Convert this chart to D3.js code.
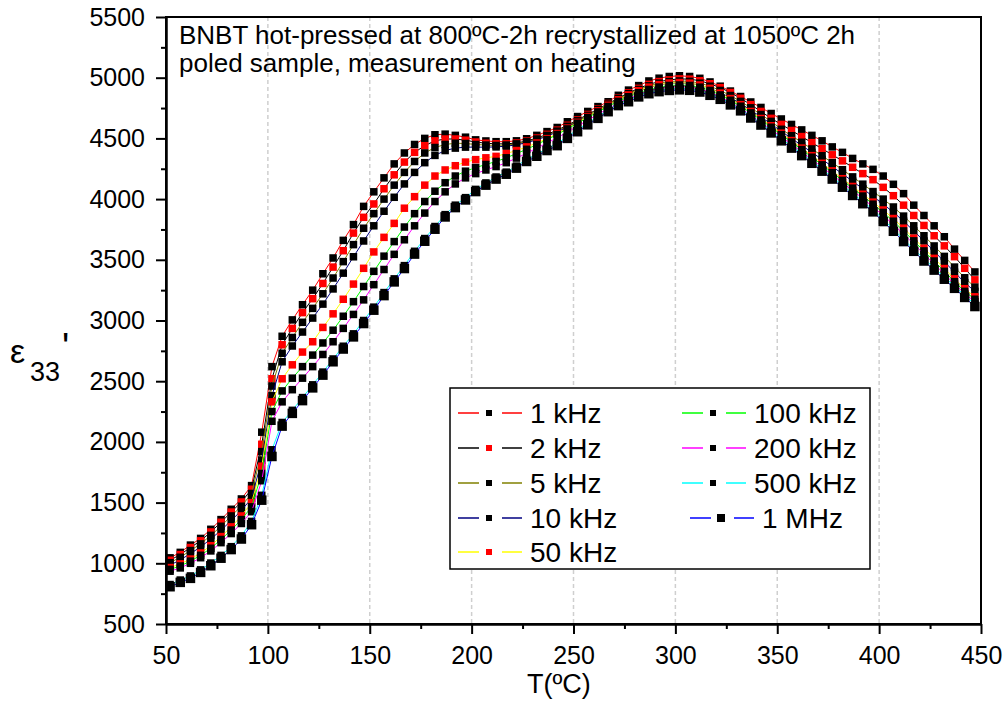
<!DOCTYPE html>
<html>
<head>
<meta charset="utf-8">
<script src="https://cdn.jsdelivr.net/npm/d3@7"></script>
<style>
  body { margin: 0; background: #fff; }
  text { font-family: "Liberation Sans", Arial, sans-serif; }
</style>
</head>
<body>
<div id="graph"></div>
<script>
// temperature of every measurement point (ºC)
const temps = [52,57,62,67,72,77,82,87,92,97,
  102,107,112,117,122,127,132,137,142,147,
  152,157,162,167,172,177,182,187,192,197,
  202,207,212,217,222,227,232,237,242,247,
  252,257,262,267,272,277,282,287,292,297,
  302,307,312,317,322,327,332,337,342,347,
  352,357,362,367,372,377,382,387,392,397,
  402,407,412,417,422,427,432,437,442,447];

// eps33', one array per frequency
const eps1k = [1045,1090,1150,1205,1280,1360,1445,1530,1640,2080,
  2620,2870,3005,3130,3250,3385,3515,3660,3790,3940,
  4060,4175,4290,4380,4450,4500,4530,4535,4525,4510,
  4488,4479,4473,4473,4480,4497,4525,4556,4590,4637,
  4680,4722,4762,4802,4855,4898,4935,4973,4996,5010,
  5016,5010,4995,4965,4930,4890,4845,4800,4755,4705,
  4660,4615,4570,4525,4480,4430,4385,4335,4290,4245,
  4190,4122,4045,3950,3865,3780,3690,3588,3495,3400];
const eps2k = [1025,1072,1130,1185,1258,1338,1422,1505,1610,1980,
  2520,2800,2935,3065,3180,3305,3440,3575,3720,3850,
  3960,4085,4200,4305,4385,4440,4480,4495,4495,4485,
  4470,4460,4455,4455,4462,4478,4503,4533,4568,4608,
  4652,4697,4742,4787,4832,4875,4912,4945,4968,4982,
  4990,4988,4975,4950,4918,4878,4830,4778,4722,4665,
  4615,4565,4515,4465,4415,4365,4315,4262,4210,4160,
  4097,4028,3950,3865,3783,3698,3615,3526,3430,3335];
const eps5k = [1005,1050,1105,1160,1230,1305,1390,1470,1575,1920,
  2460,2730,2860,2985,3100,3220,3350,3485,3625,3760,
  3880,4000,4115,4220,4310,4380,4425,4450,4460,4458,
  4450,4445,4442,4445,4455,4472,4495,4525,4560,4600,
  4645,4690,4737,4783,4828,4868,4903,4933,4955,4968,
  4973,4970,4955,4930,4895,4853,4805,4752,4697,4640,
  4575,4522,4468,4413,4357,4300,4242,4183,4123,4062,
  4000,3935,3860,3780,3698,3614,3528,3440,3352,3275];
const eps10k = [985,1028,1080,1135,1200,1272,1352,1435,1535,1850,
  2380,2660,2790,2905,3020,3135,3260,3390,3525,3655,
  3780,3900,4015,4125,4220,4300,4360,4400,4420,4428,
  4428,4428,4430,4436,4447,4465,4488,4518,4553,4593,
  4637,4682,4728,4774,4818,4857,4891,4920,4941,4954,
  4958,4954,4940,4913,4877,4835,4787,4733,4677,4619,
  4558,4500,4442,4385,4327,4268,4208,4147,4085,4022,
  3958,3892,3818,3738,3655,3570,3485,3398,3312,3240];
const eps50k = [965,995,1035,1085,1145,1220,1300,1390,1500,1800,
  2330,2520,2635,2740,2825,2943,3055,3175,3300,3430,
  3565,3685,3800,3925,4020,4115,4190,4240,4275,4305,
  4325,4340,4352,4375,4400,4430,4462,4498,4540,4585,
  4632,4680,4727,4773,4818,4858,4893,4922,4943,4956,
  4960,4955,4940,4912,4873,4828,4778,4722,4664,4604,
  4543,4482,4420,4358,4295,4232,4168,4104,4040,3975,
  3910,3840,3760,3678,3595,3512,3428,3343,3262,3195];
const eps100k = [950,978,1018,1066,1124,1196,1274,1360,1465,1740,
  2250,2420,2525,2620,2715,2815,2920,3035,3155,3280,
  3405,3530,3650,3770,3880,3980,4065,4135,4190,4230,
  4260,4285,4310,4340,4375,4410,4450,4490,4532,4578,
  4625,4672,4718,4763,4805,4843,4876,4903,4923,4936,
  4940,4936,4922,4895,4858,4814,4765,4710,4652,4592,
  4531,4470,4408,4345,4282,4218,4154,4090,4025,3958,
  3890,3818,3738,3656,3573,3490,3405,3320,3240,3175];
const eps200k = [935,962,1000,1046,1102,1170,1245,1328,1425,1680,
  2170,2330,2430,2525,2620,2720,2825,2935,3050,3170,
  3295,3420,3545,3665,3780,3885,3980,4060,4125,4175,
  4210,4240,4268,4300,4338,4378,4420,4462,4505,4552,
  4600,4650,4698,4745,4790,4830,4864,4892,4912,4924,
  4928,4924,4908,4880,4843,4798,4748,4692,4633,4573,
  4512,4451,4389,4326,4263,4199,4135,4070,4005,3935,
  3865,3790,3712,3630,3548,3466,3383,3300,3222,3155];
const eps500k = [825,862,896,946,1002,1065,1137,1226,1345,1560,
  1935,2160,2260,2365,2470,2575,2683,2788,2890,3000,
  3110,3230,3343,3452,3570,3675,3774,3872,3950,4012,
  4080,4133,4182,4222,4272,4327,4370,4416,4458,4516,
  4572,4628,4680,4735,4785,4817,4856,4882,4898,4908,
  4913,4909,4895,4868,4835,4790,4742,4684,4626,4562,
  4497,4437,4375,4312,4247,4182,4115,4047,3980,3913,
  3833,3753,3668,3588,3508,3433,3358,3283,3208,3133];
const eps1M = [807,843,876,925,980,1042,1113,1200,1318,1520,
  1880,2130,2235,2340,2445,2550,2660,2765,2865,2975,
  3085,3205,3318,3428,3547,3653,3752,3853,3930,3993,
  4062,4115,4165,4205,4255,4310,4353,4400,4440,4500,
  4555,4612,4665,4720,4770,4802,4842,4868,4885,4895,
  4900,4896,4882,4855,4822,4776,4727,4668,4610,4545,
  4480,4420,4358,4295,4230,4165,4098,4030,3962,3895,
  3815,3735,3650,3570,3490,3415,3340,3265,3190,3115];

const labels = ["1 kHz", "2 kHz", "5 kHz", "10 kHz", "50 kHz", "100 kHz", "200 kHz", "500 kHz", "1 MHz"];
const lineColors = ["#ff0000", "#000000", "#808000", "#000080", "#ffff00", "#00ff00", "#ff00ff", "#00ffff", "#0000ff"];
const markerColors = ["#000000", "#ff0000", "#000000", "#000000", "#ff0000", "#000000", "#000000", "#000000", "#000000"];
const seriesValues = [eps1k, eps2k, eps5k, eps10k, eps50k, eps100k, eps200k, eps500k, eps1M];

const xTicks = [50, 100, 150, 200, 250, 300, 350, 400, 450];
const xMinor = [75, 125, 175, 225, 275, 325, 375, 425];
const yTicks = [500, 1000, 1500, 2000, 2500, 3000, 3500, 4000, 4500, 5000, 5500];
const yMinor = [750, 1250, 1750, 2250, 2750, 3250, 3750, 4250, 4750, 5250];

const titleLines = ["BNBT hot-pressed at 800ºC-2h recrystallized at 1050ºC 2h",
  "poled sample, measurement on heating"];

const WIDTH = 1008, HEIGHT = 701;
const plot = {left: 166, right: 981, top: 17, bottom: 624};

let svg = d3.select("#graph")
  .append("svg")
  .attr("width", WIDTH)
  .attr("height", HEIGHT)
  .style("display", "block");

svg.append("rect").attr("width", WIDTH).attr("height", HEIGHT).attr("fill", "#fff");

let x = d3.scaleLinear().domain([50, 450]).range([plot.left, plot.right]);
let y = d3.scaleLinear().domain([500, 5500]).range([plot.bottom, plot.top]);

// dashed vertical grid
svg.append("g")
  .selectAll("line")
  .data(xTicks.slice(1, -1))
  .enter()
  .append("line")
  .attr("x1", d => x(d)).attr("x2", d => x(d))
  .attr("y1", plot.top).attr("y2", plot.bottom)
  .attr("stroke", "#cfcfcf")
  .attr("stroke-width", 1.5)
  .attr("stroke-dasharray", "4,3");

// title text inside the frame
svg.append("g")
  .selectAll("text")
  .data(titleLines)
  .enter()
  .append("text")
  .attr("x", 179)
  .attr("y", (d, i) => 44 + i * 28)
  .style("font-size", "26px")
  .text(d => d);

// curves: line first, then square symbols
let series = seriesValues.map(function(vals, i) {
  return {
    label: labels[i],
    line: lineColors[i],
    marker: markerColors[i],
    size: i === 8 ? 9.5 : 7.5,
    points: temps.map((t, j) => ({t: t, v: vals[j]}))
  };
});

let lineGen = d3.line().x(d => x(d.t)).y(d => y(d.v));

let curves = svg.append("g");
series.forEach(function(s) {
  curves.append("path")
    .datum(s.points)
    .attr("d", lineGen)
    .attr("fill", "none")
    .attr("stroke", s.line)
    .attr("stroke-width", 1);
  curves.append("g")
    .selectAll("rect")
    .data(s.points)
    .enter()
    .append("rect")
    .attr("x", d => x(d.t) - s.size / 2)
    .attr("y", d => y(d.v) - s.size / 2)
    .attr("width", s.size)
    .attr("height", s.size)
    .attr("fill", s.marker);
});

// axes
let xAxis = svg.append("g")
  .attr("transform", `translate(0, ${plot.bottom})`)
  .call(d3.axisBottom(x).tickValues(xTicks).tickSize(10).tickSizeOuter(0).tickFormat(d3.format("d")));
xAxis.selectAll("text").attr("y", 40).attr("dy", null).style("font-size", "25px").attr("fill", "#000");

svg.append("g")
  .attr("transform", `translate(0, ${plot.bottom})`)
  .call(d3.axisBottom(x).tickValues(xMinor).tickSize(5).tickSizeOuter(0).tickFormat(""));

let yAxis = svg.append("g")
  .attr("transform", `translate(${plot.left}, 0)`)
  .call(d3.axisLeft(y).tickValues(yTicks).tickSize(10).tickSizeOuter(0).tickPadding(11).tickFormat(d3.format("d")));
yAxis.selectAll("text").style("font-size", "25px").attr("fill", "#000");

svg.append("g")
  .attr("transform", `translate(${plot.left}, 0)`)
  .call(d3.axisLeft(y).tickValues(yMinor).tickSize(5).tickSizeOuter(0).tickFormat(""));

svg.selectAll(".tick line").attr("stroke", "#000").attr("stroke-width", 2);
svg.selectAll(".domain").attr("stroke", "#000").attr("stroke-width", 2);

// frame
svg.append("rect")
  .attr("x", plot.left).attr("y", plot.top)
  .attr("width", plot.right - plot.left)
  .attr("height", plot.bottom - plot.top)
  .attr("fill", "none")
  .attr("stroke", "#000")
  .attr("stroke-width", 2);

// axis titles
svg.append("text")
  .attr("x", 527).attr("y", 693)
  .style("font-size", "27px")
  .text("T(ºC)");

let yLab = svg.append("g");
yLab.append("text").attr("x", 10).attr("y", 363).style("font-size", "34px").text("ε");
yLab.append("text").attr("x", 30).attr("y", 381).style("font-size", "27px").text("33");
yLab.append("text").attr("x", 62).attr("y", 360).style("font-size", "38px").text("'");

// legend
let legend = svg.append("g");
legend.append("rect")
  .attr("x", 450).attr("y", 388)
  .attr("width", 420).attr("height", 181)
  .attr("fill", "#fff")
  .attr("stroke", "#000")
  .attr("stroke-width", 1.5);

let rowY = [413, 448, 483, 518, 552];
series.forEach(function(s, i) {
  let col = i < 5 ? 0 : 1;
  let cy = rowY[col === 0 ? i : i - 5];
  let x0 = col === 0 ? 458 : (i === 8 ? 690 : 682);
  let g = legend.append("g").attr("transform", `translate(${x0}, ${cy})`);
  g.append("line").attr("x1", 0).attr("x2", 21).attr("y1", 0).attr("y2", 0)
    .attr("stroke", s.line).attr("stroke-width", 1.5);
  g.append("line").attr("x1", 44).attr("x2", 64).attr("y1", 0).attr("y2", 0)
    .attr("stroke", s.line).attr("stroke-width", 1.5);
  let ms = i === 8 ? 8 : 6;
  g.append("rect").attr("x", 31 - ms / 2).attr("y", -ms / 2)
    .attr("width", ms).attr("height", ms).attr("fill", s.marker);
  g.append("text").attr("x", 72).attr("y", 10)
    .style("font-size", "28px")
    .text(s.label);
});
</script>
</body>
</html>
